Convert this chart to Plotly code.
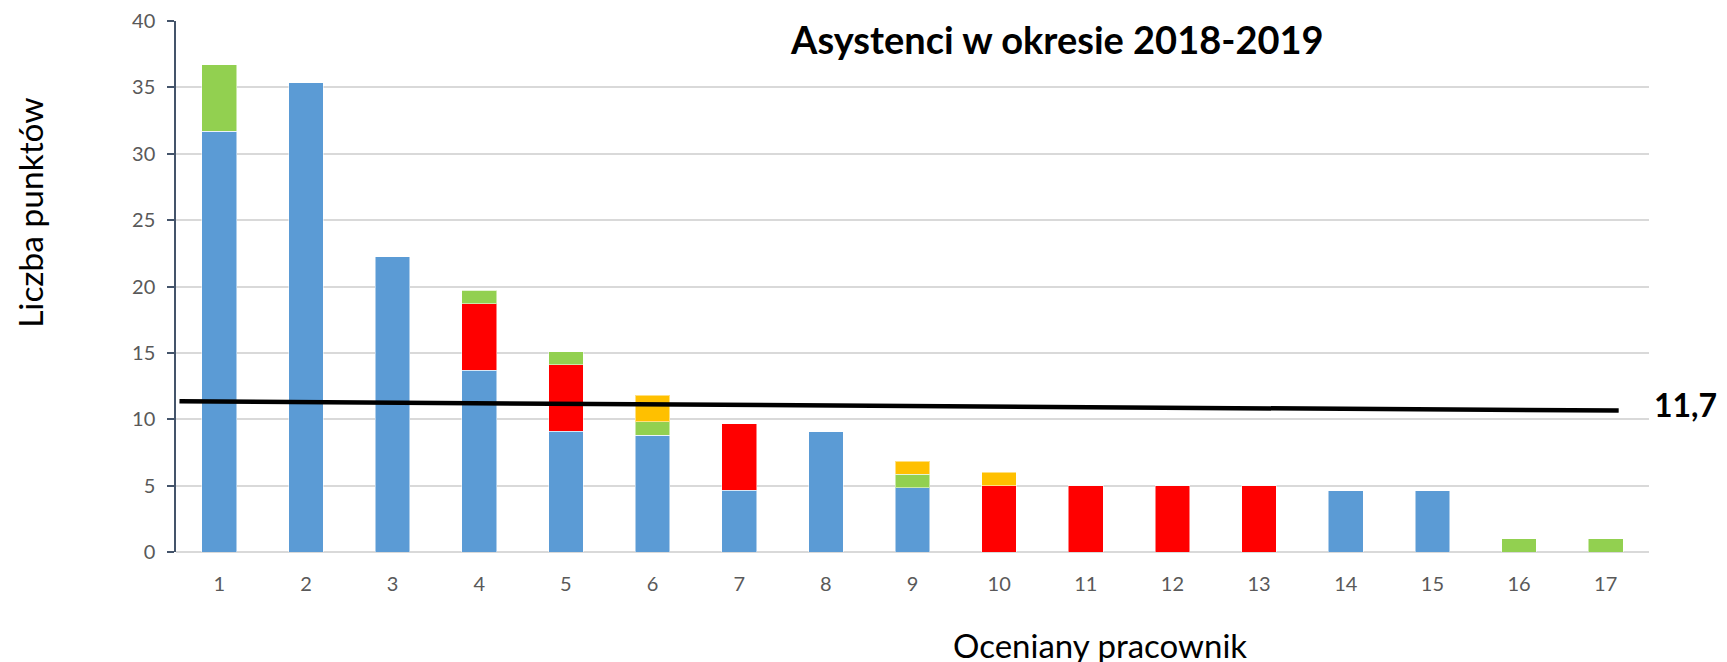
import plotly.graph_objects as go

categories = list(range(1, 18))
tick_labels = [str(c) for c in categories]
blue = [31.7, 35.35, 22.25, 13.7, 9.1, 8.8, 4.65, 9.05, 4.85, 0, 0, 0, 0, 4.62, 4.62, 0, 0]
red = [0, 0, 0, 5, 5, 0, 5, 0, 0, 5, 5, 5, 5, 0, 0, 0, 0]
green = [5, 0, 0, 1, 1, 1, 0, 0, 1, 0, 0, 0, 0, 0, 0, 1, 1]
yellow = [0, 0, 0, 0, 0, 2, 0, 0, 1, 1, 0, 0, 0, 0, 0, 0, 0]
avg_line_x = [0.54, 17.15]
avg_line_y = [11.35, 10.65]
avg_label = "11,7"

colors = {"blue": "#5b9bd5", "red": "#ff0000", "green": "#92d050", "yellow": "#ffc000"}

fig = go.Figure()
for name, vals in [("blue", blue), ("red", red), ("green", green), ("yellow", yellow)]:
    fig.add_trace(go.Bar(
        x=categories, y=vals, name=name, width=0.4,
        marker=dict(color=colors[name], line=dict(color="rgba(255,255,255,0.5)", width=1)),
        showlegend=False,
    ))

fig.add_trace(go.Scatter(x=avg_line_x, y=avg_line_y, mode="lines",
                         line=dict(color="black", width=4.5), showlegend=False))

fig.update_layout(
    barmode="stack",
    width=1727, height=662,
    margin=dict(l=168, r=86, t=13, b=118),
    plot_bgcolor="white", paper_bgcolor="white",
    font=dict(family="Lato", color="#595959"),
    xaxis=dict(range=[0.5, 17.5], tickvals=categories, ticktext=tick_labels,
               showgrid=False, showline=False, zeroline=False, automargin=False,
               tickfont=dict(size=20, color="#595959"), ticks="", ticklabelstandoff=18),
    yaxis=dict(range=[0, 40], dtick=5, showgrid=True, gridcolor="#d9d9d9", gridwidth=1.5,
               zeroline=True, zerolinecolor="#d9d9d9", zerolinewidth=1.5,
               showline=True, linecolor="#44546a", linewidth=1.5, automargin=False,
               ticks="outside", ticklen=7, tickcolor="#44546a", tickwidth=1.5,
               ticklabelstandoff=8,
               tickfont=dict(size=20, color="#595959")),
    annotations=[
        dict(text="<b>Asystenci w okresie 2018-2019</b>", xref="paper", yref="paper",
             x=0.598, y=0.967, xanchor="center", yanchor="middle", showarrow=False,
             font=dict(family="Lato", size=38, color="black")),
        dict(text="Liczba punktów", xref="paper", yref="paper", x=-0.099, y=0.639,
             xanchor="center", yanchor="middle", textangle=-90, showarrow=False,
             font=dict(family="Lato", size=33.5, color="black")),
        dict(text="Oceniany pracownik", xref="paper", yref="paper", x=0.627, y=-0.134,
             xanchor="center", yanchor="top", showarrow=False,
             font=dict(family="Lato", size=33, color="black")),
        dict(text="<b>" + avg_label + "</b>", xref="paper", yref="paper", x=1.0245, y=0.277,
             xanchor="center", yanchor="middle", showarrow=False,
             font=dict(family="Lato", size=32, color="black")),
    ],
)

fig.write_html("out.html")
